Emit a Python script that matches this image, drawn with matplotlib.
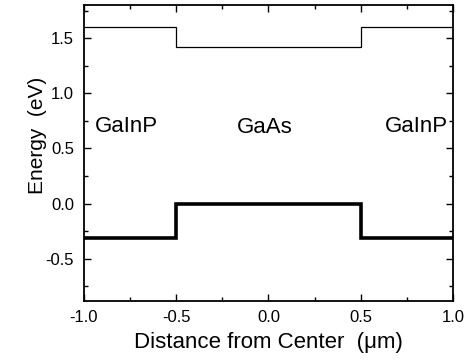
import matplotlib
matplotlib.use("Agg")
import matplotlib.pyplot as plt
from matplotlib.ticker import MultipleLocator

plt.rcParams['font.family'] = ['Liberation Sans', 'DejaVu Sans']

# Band edge profile across the heterostructure
x_edges = [-1.0, -0.5, 0.5, 1.0]
conduction = [1.60, 1.42, 1.60]
valence = [-0.31, 0.0, -0.31]
regions = ["GaInP", "GaAs", "GaInP"]
region_x = [-0.77, -0.02, 0.80]
region_y = [0.70, 0.69, 0.70]

fig = plt.figure(figsize=(4.71, 3.64), dpi=100)
ax = fig.add_axes([0.178, 0.174, 0.784, 0.812])

ax.stairs(conduction, x_edges, color='black', lw=0.9, baseline=None)
ax.stairs(valence, x_edges, color='black', lw=2.6, baseline=None)

for name, tx, ty in zip(regions, region_x, region_y):
    ax.text(tx, ty, name, ha='center', va='center', fontsize=16)

ax.set_xlim(-1.0, 1.0)
ax.set_ylim(-0.88, 1.8)
ax.xaxis.set_major_locator(MultipleLocator(0.5))
ax.xaxis.set_minor_locator(MultipleLocator(0.25))
ax.yaxis.set_major_locator(MultipleLocator(0.5))
ax.yaxis.set_minor_locator(MultipleLocator(0.25))
ax.xaxis.set_major_formatter(plt.FormatStrFormatter('%.1f'))
ax.yaxis.set_major_formatter(plt.FormatStrFormatter('%.1f'))

ax.tick_params(which='both', direction='in', top=True, right=True,
               labelsize=12, width=1.0)
ax.tick_params(which='major', length=5, pad=7)
ax.tick_params(which='minor', length=3)
for s in ax.spines.values():
    s.set_linewidth(1.3)

ax.set_xlabel('Distance from Center  (\u03bcm)', fontsize=16)
ax.set_ylabel('Energy  (eV)', fontsize=15)
ax.xaxis.set_label_coords(0.5, -0.105)
ax.yaxis.set_label_coords(-0.10, 0.56)

fig.savefig('out.png', dpi=100)
